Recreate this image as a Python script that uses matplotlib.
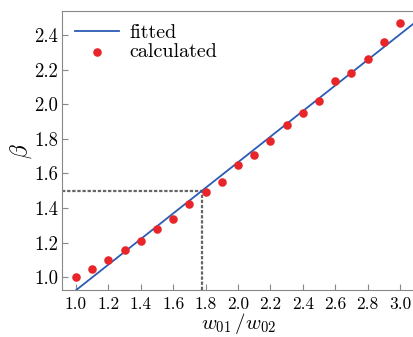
import matplotlib
matplotlib.use("Agg")
import matplotlib.pyplot as plt
import numpy as np

x_calc = [1.0, 1.1, 1.2, 1.3, 1.4, 1.5, 1.6, 1.7, 1.8, 1.9, 2.0,
          2.1, 2.2, 2.3, 2.4, 2.5, 2.6, 2.7, 2.8, 2.9, 3.0]
y_calc = [1.00, 1.048, 1.10, 1.16, 1.21, 1.28, 1.335, 1.424, 1.49, 1.552, 1.649,
          1.707, 1.79, 1.88, 1.948, 2.021, 2.137, 2.18, 2.264, 2.362, 2.469]
fit_slope = 0.74
fit_intercept = 0.185
x_fit = [0.99, 3.1]
x_mark = 1.78
y_mark = 1.5
xticks = [1.0, 1.2, 1.4, 1.6, 1.8, 2.0, 2.2, 2.4, 2.6, 2.8, 3.0]
yticks = [1.0, 1.2, 1.4, 1.6, 1.8, 2.0, 2.2, 2.4]

plt.rcParams['font.family'] = 'serif'
plt.rcParams['font.serif'] = ['cmr10', 'DejaVu Serif']
plt.rcParams['mathtext.fontset'] = 'cm'
plt.rcParams['axes.formatter.use_mathtext'] = True

fig = plt.figure(figsize=(4.14, 3.37), dpi=100)
ax = fig.add_axes([0.150, 0.139, 0.85, 0.828])

yf = [fit_slope * v + fit_intercept for v in x_fit]
ax.plot(x_fit, yf, color='#2a5cb4', lw=1.3, label='fitted', zorder=3)
ax.scatter(x_calc, y_calc, s=38, color='#e8262a', label='calculated', zorder=4, linewidths=0)

ax.plot([0.914, x_mark], [y_mark, y_mark], color='#666666', ls='--', lw=1.6, dashes=(1.5, 0.8), zorder=2)
ax.plot([x_mark, x_mark], [0.925, y_mark], color='#666666', ls='--', lw=1.6, dashes=(1.5, 0.8), zorder=2)

ax.set_xlim(0.914, 3.086)
ax.set_ylim(0.925, 2.539)
ax.set_xticks(xticks)
ax.set_yticks(yticks)
ax.set_xticklabels([f"{v:.1f}" for v in xticks])
ax.set_yticklabels([f"{v:.1f}" for v in yticks])
ax.tick_params(direction='in', labelsize=13.5, length=4, color='#888888')
ax.tick_params(axis='x', labelsize=12.5, pad=5)
ax.tick_params(axis='y', pad=3)

for s in ['left', 'bottom', 'top']:
    ax.spines[s].set_color('#888888')
ax.spines['right'].set_visible(False)

ax.set_xlabel(r'$w_{01}\,/w_{02}$', fontsize=15, labelpad=-1)
ax.set_ylabel(r'$\beta$', fontsize=17, labelpad=0)

ax.legend(loc='upper left', frameon=False, fontsize=14.5, handlelength=2.2,
          borderaxespad=0.35, handletextpad=0.5, labelspacing=0.05, borderpad=0.3)

fig.savefig('out.png', dpi=100)
